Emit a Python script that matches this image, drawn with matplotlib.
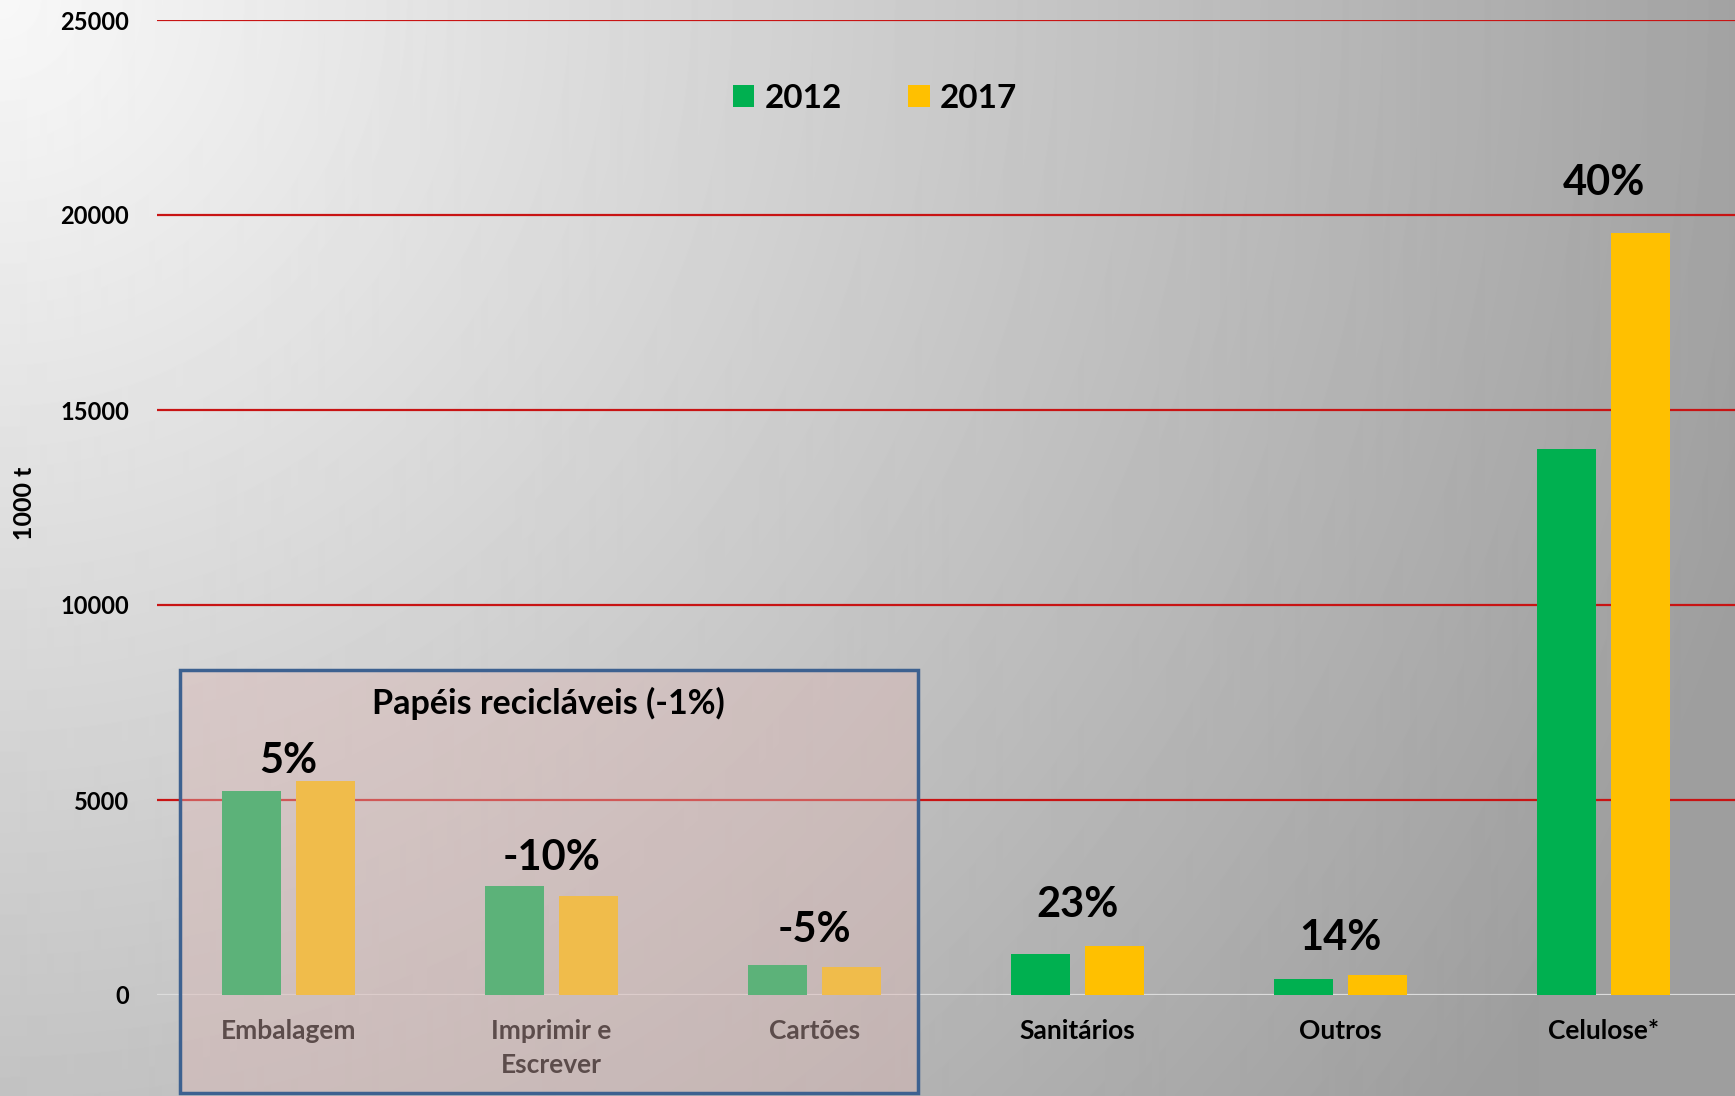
import matplotlib
matplotlib.use("Agg")
import matplotlib.pyplot as plt
import numpy as np
from matplotlib.patches import Rectangle

plt.rcParams['font.family'] = ['Lato', 'DejaVu Sans']

categorias = ['Embalagem', 'Imprimir e\nEscrever', 'Cartões', 'Sanitários', 'Outros', 'Celulose*']
v2012 = [5230, 2800, 775, 1050, 415, 14000]
v2017 = [5500, 2530, 730, 1260, 505, 19530]
variacao = ['5%', '-10%', '-5%', '23%', '14%', '40%']
anos = ['2012', '2017']
yticks = [0, 5000, 10000, 15000, 20000, 25000]

# altura (em t) onde fica cada rotulo de variacao
label_y = [5990, 3520, 1670, 2300, 1450, 20820]

fig = plt.figure(figsize=(17.35, 10.96), dpi=100)

# fundo em degradê a partir do canto superior esquerdo
bg = fig.add_axes([0, 0, 1, 1], zorder=-10)
h, w = 1096, 1735
yy, xx = np.mgrid[0:h, 0:w]
d = np.sqrt(xx**2 + yy**2)
val = np.maximum(248 - 85 * d / 1735, 158) / 255
bg.imshow(val, cmap='gray', vmin=0, vmax=1, aspect='auto', interpolation='bilinear')
bg.axis('off')

ax = fig.add_axes([157/1735, 1-995/1096, (1735-157)/1735, 975/1096])
ax.set_facecolor('none')
x = np.arange(len(categorias))
b1 = ax.bar(x - 0.141, v2012, width=0.223, color='#00B050', zorder=1)
b2 = ax.bar(x + 0.141, v2017, width=0.223, color='#FFC000', zorder=1)

for yv in yticks[1:]:
    ax.axhline(yv, color='#C81414', lw=1.6, zorder=0.5)
ax.axhline(0, color='#DCDCDC', lw=1.6, zorder=0.5)

ax.set_xlim(-0.5, 5.5)
ax.set_ylim(0, 25000)
ax.set_yticks(yticks)
ax.set_yticklabels([str(t) for t in yticks], fontsize=17, fontweight='bold')
ax.set_xticks(x)
ax.set_xticklabels(categorias, fontsize=19, fontweight='bold')
for t in ax.get_xticklabels():
    t.set_linespacing(1.5)
ax.tick_params(axis='y', length=0, pad=20)
ax.tick_params(axis='x', length=0, pad=17)
for s in ax.spines.values():
    s.set_visible(False)

for i, lab in enumerate(variacao):
    ax.text(x[i], label_y[i], lab, ha='center', va='center',
            fontsize=30, fontweight='bold', color='black', zorder=5)

# caixa dos papeis reciclaveis
box = Rectangle((180/1735, 3/1096), (918-180)/1735, (1093-670)/1096,
                transform=fig.transFigure, facecolor=(220/255, 183/255, 180/255, 0.42),
                edgecolor='#3D6190', lw=2.5, clip_on=False, zorder=2.8)
ax.add_patch(box)
fig.text(548/1735, 1-703/1096, 'Papéis recicláveis (-1%)', ha='center', va='center',
         fontsize=24.5, fontweight='bold', color='black', zorder=10)

ax.legend([b1, b2], anos, loc='center', bbox_to_anchor=(0.455, 0.92), ncol=2,
          frameon=False, prop={'size': 24, 'weight': 'bold'},
          handlelength=0.64, handleheight=0.64, handletextpad=0.3, columnspacing=2.0)

fig.text(25/1735, 1-503/1096, '1000 t', rotation=90, ha='center', va='center',
         fontsize=18, fontweight='bold')

fig.savefig('out.png', dpi=100)
